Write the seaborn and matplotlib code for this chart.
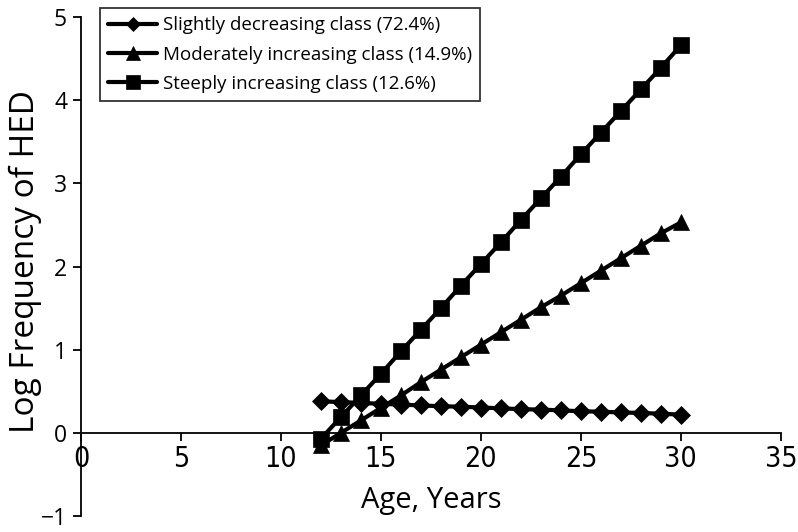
import matplotlib
matplotlib.use("Agg")
import matplotlib.pyplot as plt
from matplotlib import font_manager
import seaborn as sns
import pandas as pd

ages = [12, 13, 14, 15, 16, 17, 18, 19, 20, 21, 22, 23, 24, 25, 26, 27, 28, 29, 30]
slightly_decreasing = [0.38, 0.37, 0.36, 0.35, 0.34, 0.33, 0.32, 0.315, 0.305, 0.295,
                       0.285, 0.28, 0.27, 0.26, 0.255, 0.245, 0.24, 0.23, 0.22]
moderately_increasing = [-0.15, 0.0, 0.15, 0.30, 0.45, 0.61, 0.76, 0.91, 1.06, 1.21,
                         1.36, 1.51, 1.65, 1.80, 1.95, 2.10, 2.25, 2.40, 2.53]
steeply_increasing = [-0.07, 0.19, 0.45, 0.71, 0.98, 1.24, 1.50, 1.77, 2.03, 2.29,
                      2.56, 2.82, 3.08, 3.35, 3.61, 3.87, 4.13, 4.39, 4.66]
series_names = ["Slightly decreasing class (72.4%)",
                "Moderately increasing class (14.9%)",
                "Steeply increasing class (12.6%)"]
x_ticks = [0, 5, 10, 15, 20, 25, 30, 35]
y_ticks = [-1, 0, 1, 2, 3, 4, 5]

rows = []
for name, vals in zip(series_names, [slightly_decreasing, moderately_increasing, steeply_increasing]):
    for a, v in zip(ages, vals):
        rows.append({"Age": a, "Value": v, "Class": name})
df = pd.DataFrame(rows)

sns.set_theme(style="white")
plt.rcParams["font.family"] = ["Open Sans", "DejaVu Sans"]

# locate a regular-weight condensed font file for the x tick labels
cond_file = None
def _ok(f):
    return str(f.style) == "normal" and f.weight in (400, "normal", "regular", "book")
for cand in ["Liberation Sans Narrow"]:
    for f in font_manager.fontManager.ttflist:
        if f.name == cand and _ok(f) and "bold" not in f.fname.lower() and "italic" not in f.fname.lower():
            cond_file = f.fname
            break
if cond_file is None:
    for f in font_manager.fontManager.ttflist:
        fn = f.fname.lower()
        if ("condensed" in fn or "narrow" in fn) and "bold" not in fn and "oblique" not in fn \
                and "italic" not in fn and "light" not in fn:
            cond_file = f.fname
            break

fig = plt.figure(figsize=(7.98, 5.32), dpi=100)
ax = fig.add_axes([0.1015, 0.030, 0.877, 0.938])

markers = {series_names[0]: "D", series_names[1]: "^", series_names[2]: "s"}
palette = {n: "black" for n in series_names}
sns.lineplot(data=df, x="Age", y="Value", hue="Class", style="Class",
             markers=markers, dashes=False, palette=palette, linewidth=3,
             markersize=12, markeredgecolor="black", markeredgewidth=0.5,
             ax=ax, legend=True)

for line in ax.get_lines():
    m = line.get_marker()
    if m == "D":
        line.set_markersize(9.5)
    elif m == "^":
        line.set_markersize(12)
    elif m == "s":
        line.set_markersize(12)

ax.set_xlim(0, 35)
ax.set_ylim(-1, 5)
ax.set_xticks(x_ticks)
ax.set_yticks(y_ticks)
ax.set_yticklabels(["\u22121" if t < 0 else str(t) for t in y_ticks])

for s in ["top", "right"]:
    ax.spines[s].set_visible(False)
ax.spines["bottom"].set_position(("data", 0))
for s in ["left", "bottom"]:
    ax.spines[s].set_color("black")
    ax.spines[s].set_linewidth(1.3)

ax.tick_params(axis="y", direction="out", length=6, width=1.3, labelsize=16.5,
               left=True, pad=4, colors="black")
ax.tick_params(axis="x", direction="out", length=6, width=1.3, labelsize=20,
               bottom=True, pad=3, colors="black")
if cond_file is not None:
    fp = font_manager.FontProperties(fname=cond_file, size=20.5)
    for lab in ax.get_xticklabels():
        lab.set_fontproperties(fp)
else:
    for lab in ax.get_xticklabels():
        lab.set_fontsize(18)

ax.set_xlabel("Age, Years", fontsize=21, color="black")
ax.xaxis.label.set_va("center")
ax.xaxis.set_label_coords(0.50, 0.032)
ax.set_ylabel("Log Frequency of HED", fontsize=24, color="black")
ax.yaxis.label.set_va("center")
ax.yaxis.set_label_coords(-0.079, 0.509)

leg = ax.legend(loc="upper left", bbox_to_anchor=(0.027, 1.018), borderaxespad=0,
                fontsize=13.5, frameon=True, fancybox=False, handlelength=2.6,
                handletextpad=0.3, labelspacing=0.6, borderpad=0.45, markerscale=0.8)
leg.get_frame().set_edgecolor("black")
leg.get_frame().set_linewidth(1.3)
for txt in leg.get_texts():
    txt.set_color("black")

fig.savefig("out.png", dpi=100)
